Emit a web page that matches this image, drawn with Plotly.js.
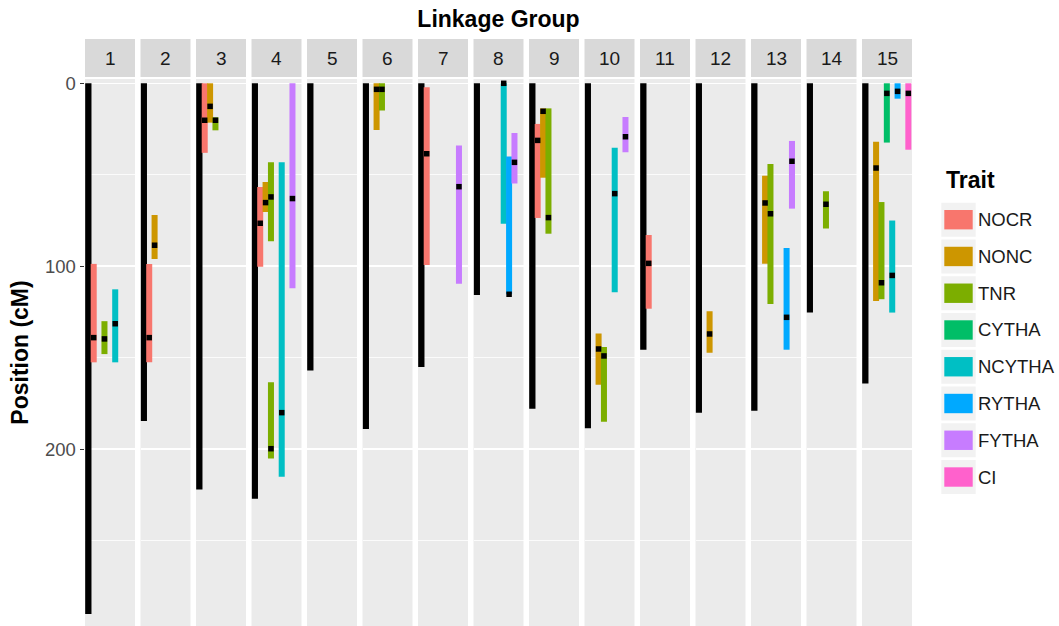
<!DOCTYPE html>
<html>
<head>
<meta charset="utf-8">
<script src="https://cdn.plot.ly/plotly-3.0.1.min.js"></script>
<style>html,body{margin:0;padding:0;background:#fff;}#chart{width:1059px;height:626px;}</style>
</head>
<body>
<div id="chart"></div>
<script>
// ---------------- data ----------------
const linkageGroups = ['1','2','3','4','5','6','7','8','9','10','11','12','13','14','15'];
const groupLengths = [290, 184.5, 222, 227, 157, 189, 155, 115.7, 177.8, 188.5, 145.6, 180, 178.9, 125.3, 164];

const traits = ['NOCR','NONC','TNR','CYTHA','NCYTHA','RYTHA','FYTHA','CI'];
const traitColors = ['#F8766D','#CD9600','#7CAE00','#00BE67','#00BFC4','#00A9FF','#C77CFF','#FF61CC'];

const qtlGroup = ['1','1','1', '2','2', '3','3','3', '4','4','4','4','4','4', '6','6', '7','7', '8','8','8', '9','9','9',
  '10','10','10','10', '11', '12', '13','13','13','13', '14', '15','15','15','15','15','15'];
const qtlTrait = ['NOCR','TNR','NCYTHA', 'NONC','NOCR', 'NOCR','NONC','TNR', 'NOCR','NONC','TNR','TNR','NCYTHA','FYTHA',
  'NONC','TNR', 'NOCR','FYTHA', 'NCYTHA','RYTHA','FYTHA', 'NOCR','NONC','TNR', 'NONC','TNR','NCYTHA','FYTHA', 'NOCR', 'NONC',
  'NONC','TNR','RYTHA','FYTHA', 'TNR', 'NONC','TNR','CYTHA','NCYTHA','RYTHA','CI'];
const qtlStart = [98.7,130,112.6, 72,98.7, 0,0,18.6, 56.7,54,43.2,163.4,43.2,0, 0,0, 2.2,34, 0,40,27.2, 22.2,13.7,13.7,
  136.8,144.1,35.2,18.4, 82.9, 124.6, 50.5,44.1,90,31.5, 59, 32,64.9,0,75,0,0];
const qtlEnd = [152.5,148,152.5, 96,152.5, 38,21.5,25.7, 100.2,70.3,86.3,205,215,112, 25.5,14.8, 99.3,109.5, 76.7,115.3,54.7,
  73.6,51.6,82.2, 164.7,185,114.2,37.7, 123.2, 147.2, 98.6,120.6,145.6,68.5, 79.4, 119,118,32.4,125.3,8.4,36.3];
const qtlPeak = [139,139.7,131.4, 88.5,139, 20.2,12.6,20.2, 76.5,65.2,62.1,199.7,180,63, 3.3,3.3, 38.5,56.5, 0,115.3,43.2,
  31.2,15.3,73.4, 145.2,149,60.3,29.2, 98.4, 137, 65.4,71.3,127.9,42.6, 66.1, 46.3,109,5.5,105,4.4,5.5];

// ---------------- layout geometry ----------------
const W = 1059, H = 626;
const M = {l: 85, r: 147, t: 79, b: 0};
const PW = W - M.l - M.r, PH = H - M.t - M.b;
const panelPitch = 55.5, panelWidth = 50;
const px2paperX = px => (px - M.l) / PW;
const py2paperY = py => (H - M.b - py) / PH;

const traces = [];
const layout = {
  width: W, height: H,
  margin: M,
  paper_bgcolor: '#FFFFFF',
  plot_bgcolor: '#EBEBEB',
  barmode: 'overlay',
  showlegend: false,
  font: {family: 'Liberation Sans, Arial, sans-serif', color: '#1A1A1A'},
  title: {text: 'Linkage Group', x: 0.5, xref: 'paper', xanchor: 'center', y: 1 - 19 / H, yanchor: 'middle',
    font: {size: 23, weight: 'bold', color: '#000000'}},
  yaxis: {
    domain: [0, 1], range: [296.6, -2.35], autorange: false, anchor: 'x',
    tickvals: [0, 100, 200], ticktext: ['0', '100', '200'],
    ticks: 'outside', ticklen: 4.5, tickwidth: 1.1, tickcolor: '#333333',
    tickfont: {size: 18.5, color: '#4D4D4D'},
    showgrid: true, gridcolor: '#FFFFFF', gridwidth: 1.6,
    minor: {tickvals: [50, 150, 250], showgrid: true, gridcolor: '#FFFFFF', gridwidth: 0.8, ticks: ''},
    zeroline: false, showline: false, fixedrange: true,
    title: {text: 'Position (cM)', font: {size: 23, weight: 'bold', color: '#000000'}, standoff: 9}
  },
  shapes: [], annotations: []
};

linkageGroups.forEach((g, i) => {
  const axName = i === 0 ? 'xaxis' : 'xaxis' + (i + 1);
  const axRef = i === 0 ? 'x' : 'x' + (i + 1);
  const left = M.l + i * panelPitch;
  layout[axName] = {
    domain: [px2paperX(left), px2paperX(left + panelWidth)],
    range: [-0.62, 8.68], autorange: false, anchor: 'y',
    showgrid: false, zeroline: false, showticklabels: false, ticks: '', showline: false, fixedrange: true
  };
  // strip
  layout.shapes.push({type: 'rect', xref: 'paper', yref: 'paper', layer: 'below',
    x0: px2paperX(left), x1: px2paperX(left + panelWidth), y0: py2paperY(77), y1: py2paperY(39),
    fillcolor: '#D9D9D9', line: {width: 0}});
  layout.annotations.push({xref: 'paper', yref: 'paper', x: px2paperX(left + panelWidth / 2), y: py2paperY(58.5),
    xanchor: 'center', yanchor: 'middle', text: g, showarrow: false, font: {size: 19, color: '#1A1A1A'}});

  // chromosome bar
  traces.push({type: 'bar', xaxis: axRef, yaxis: 'y', x: [0], base: [0], y: [groupLengths[i]], width: 1.17,
    marker: {color: '#000000', line: {width: 0}}, hoverinfo: 'skip'});

  // QTL intervals
  const xs = [], bs = [], ys = [], cs = [], px = [], py = [];
  qtlGroup.forEach((qg, k) => {
    if (qg !== g) return;
    const t = traits.indexOf(qtlTrait[k]);
    xs.push(t + 1); bs.push(qtlStart[k]); ys.push(qtlEnd[k] - qtlStart[k]); cs.push(traitColors[t]);
    px.push(t + 1); py.push(qtlPeak[k]);
  });
  if (xs.length) {
    traces.push({type: 'bar', xaxis: axRef, yaxis: 'y', x: xs, base: bs, y: ys, width: 1.12,
      marker: {color: cs, line: {width: 0}}, hoverinfo: 'skip'});
    traces.push({type: 'scatter', mode: 'markers', xaxis: axRef, yaxis: 'y', x: px, y: py,
      marker: {symbol: 'square', size: 5.5, color: '#000000', line: {width: 0}}, hoverinfo: 'skip', cliponaxis: false});
  }
});

// legend (drawn manually to mimic ggplot keys)
layout.annotations.push({xref: 'paper', yref: 'paper', x: px2paperX(944), y: py2paperY(180), xanchor: 'left', yanchor: 'middle',
  text: 'Trait', showarrow: false, font: {size: 23, weight: 'bold', color: '#000000'}});
traits.forEach((t, i) => {
  const top = 202.7 + i * 36.76;
  layout.shapes.push({type: 'rect', xref: 'paper', yref: 'paper', x0: px2paperX(941.3), x1: px2paperX(975.7),
    y0: py2paperY(top + 34), y1: py2paperY(top), fillcolor: '#F2F2F2', line: {width: 0}});
  layout.shapes.push({type: 'rect', xref: 'paper', yref: 'paper', x0: px2paperX(944.3), x1: px2paperX(972.7),
    y0: py2paperY(top + 26.7), y1: py2paperY(top + 7.3), fillcolor: traitColors[i], line: {width: 0}});
  layout.annotations.push({xref: 'paper', yref: 'paper', x: px2paperX(976), y: py2paperY(top + 17), xanchor: 'left', yanchor: 'middle',
    text: t, showarrow: false, font: {size: 18.5, color: '#1A1A1A'}});
});

Plotly.newPlot('chart', traces, layout, {staticPlot: true, displayModeBar: false});
</script>
</body>
</html>
